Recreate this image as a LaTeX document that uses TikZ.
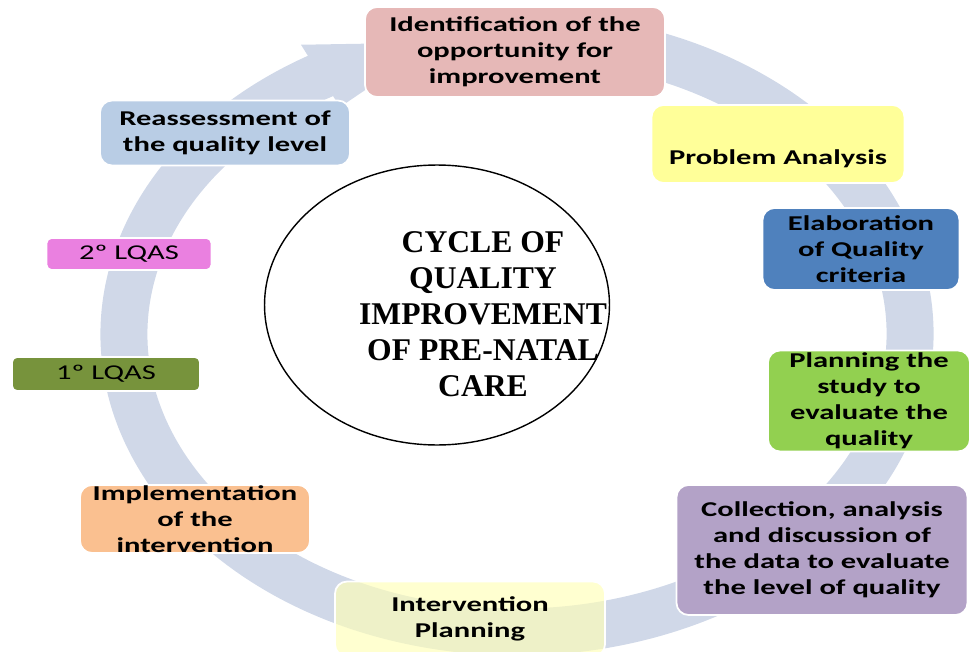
\documentclass[tikz,border=0pt]{standalone}
\usepackage{fontspec}
\setmainfont{Carlito}[FakeStretch=1.45]
\newfontfamily\titlefont{Liberation Serif}
\usetikzlibrary{shapes.geometric}

\definecolor{ringblue}{RGB}{208,216,232}
\definecolor{identpink}{RGB}{230,184,183}
\definecolor{probyellow}{RGB}{255,255,153}
\definecolor{elabblue}{RGB}{79,129,189}
\definecolor{plangreen}{RGB}{146,208,80}
\definecolor{collpurple}{RGB}{179,162,199}
\definecolor{intyellow}{RGB}{255,255,183}
\definecolor{implorange}{RGB}{250,192,144}
\definecolor{lqasone}{RGB}{119,147,60}
\definecolor{lqastwo}{RGB}{234,128,224}
\definecolor{reassblue}{RGB}{185,205,229}

\tikzset{
  stepbox/.style={rectangle, rounded corners=0.24cm, draw=white, line width=1pt,
    inner xsep=2pt, inner ysep=0pt, align=center,
    font=\fontsize{12}{14.8}\selectfont\bfseries},
  lqasbox/.style={stepbox, rounded corners=0.1cm, font=\fontsize{12}{14.8}\selectfont},
  core/.style={ellipse, draw=black, line width=0.8pt, fill=white, inner sep=0pt},
  coretext/.style={align=center, font=\titlefont\fontsize{18}{20.5}\selectfont\bfseries},
}

\begin{document}
\begin{tikzpicture}[x=0.02cm,y=-0.02cm]
  \useasboundingbox (0,0) rectangle (970,652);

  % the circular arrow behind the boxes
  \begin{scope}[shift={(517,334)}]
    \draw[ringblue, line width=0.94cm]
      (-78:393 and 298) arc[start angle=-78, end angle=242, x radius=393, y radius=298];
    \fill[ringblue] (240:432 and 334) -- (258:393 and 298) -- (240:354 and 262) -- cycle;
  \end{scope}

  \node[core, minimum width=6.9cm, minimum height=5.6cm] (core) at (437,305) {};
  \node[coretext] (title) at ([xshift=0.92cm,yshift=-0.18cm]core.center)
    {CYCLE OF\\QUALITY\\IMPROVEMENT\\OF PRE-NATAL\\CARE};

  \node[stepbox, fill=identpink, minimum width=6cm, minimum height=1.8cm] (ident) at (515,52)
    {Identification of the\\opportunity for\\improvement};
  \node[stepbox, fill=probyellow, minimum width=5.06cm, minimum height=1.56cm] (probl) at (778,144)
    {\strut\\Problem Analysis};
  \node[stepbox, fill=elabblue, minimum width=3.94cm, minimum height=1.64cm] (elab) at (861,249)
    {Elaboration\\of Quality\\criteria};
  \node[stepbox, fill=plangreen, minimum width=4.04cm, minimum height=2.02cm] (plan) at (869,401)
    {Planning the\\study to\\evaluate the\\quality};
  \node[stepbox, fill=collpurple, minimum width=5.82cm, minimum height=2.6cm] (coll) at (822,550)
    {Collection, analysis\\and discussion of\\the data to evaluate\\the level of quality};
  \node[stepbox, fill=intyellow, fill opacity=0.65, text opacity=1,
    minimum width=5.4cm, minimum height=1.5cm] (intplan) at (470,619)
    {Intervention\\Planning};
  \node[stepbox, fill=implorange, minimum width=4.6cm, minimum height=1.36cm] (impl) at (195,519)
    {Implementation\\of the\\intervention};
  \node[lqasbox, fill=lqasone, minimum width=3.76cm, minimum height=0.68cm] (lqas1) at (106,374)
    {1º LQAS};
  \node[lqasbox, fill=lqastwo, minimum width=3.3cm, minimum height=0.64cm] (lqas2) at (129,254)
    {2º LQAS};
  \node[stepbox, fill=reassblue, minimum width=5cm, minimum height=1.3cm] (reass) at (225,133)
    {Reassessment of\\the quality level};
\end{tikzpicture}
\end{document}
